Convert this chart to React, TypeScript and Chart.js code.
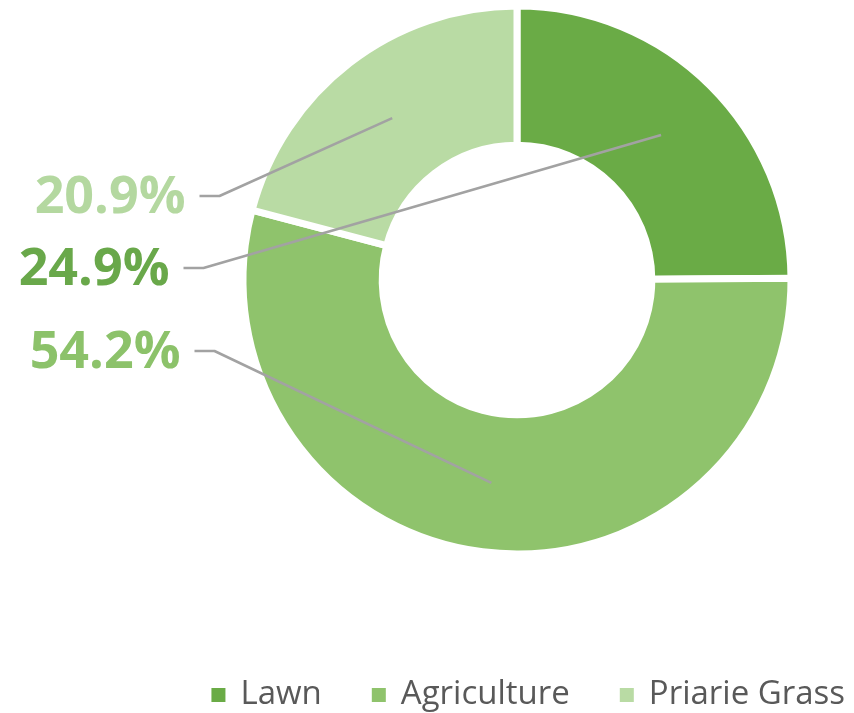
import React, { useEffect, useRef } from "react";
import { Chart, registerables } from "chart.js";

Chart.register(...registerables);

const categories = ["Lawn", "Agriculture", "Priarie Grass"];
const shares = [24.9, 54.2, 20.9];
const sliceColors = ["#6aab46", "#8fc36c", "#b9dba4"];
const labelColors = ["#69a84a", "#8cc26a", "#b4d8a0"];

// callout label anchors (style): x offset from chart area left, y offset from doughnut centre
const labelAnchorDx = [-56, -45, -40];
const labelAnchorDy = [-12, 71, -84];

const calloutPlugin = {
  id: "callouts",
  afterDatasetsDraw(chart: any) {
    const ctx = chart.ctx as CanvasRenderingContext2D;
    const meta = chart.getDatasetMeta(0);
    const area = chart.chartArea;
    meta.data.forEach((arc: any, i: number) => {
      const c = arc.getCenterPoint();
      const cy = arc.y;
      const sx = area.left + labelAnchorDx[i];
      const sy = cy + labelAnchorDy[i];
      ctx.save();
      ctx.strokeStyle = "#a2a2a2";
      ctx.lineWidth = 2.5;
      ctx.lineJoin = "round";
      ctx.beginPath();
      ctx.moveTo(sx, sy);
      ctx.lineTo(sx + 20, sy);
      ctx.lineTo(c.x, c.y);
      ctx.stroke();
      ctx.font = "bold 52px 'Open Sans'";
      ctx.fillStyle = labelColors[i];
      ctx.textAlign = "right";
      ctx.textBaseline = "middle";
      ctx.fillText(shares[i].toFixed(1) + "%", sx - 14, sy + 2);
      ctx.restore();
    });
  },
};

const legendPlugin = {
  id: "bottomLegend",
  afterDraw(chart: any) {
    const ctx = chart.ctx as CanvasRenderingContext2D;
    const colors = chart.data.datasets[0].backgroundColor as string[];
    const labels = chart.data.labels as string[];
    ctx.save();
    ctx.font = "33px 'Open Sans'";
    const box = 14;
    const boxGap = 15;
    const itemGap = 50;
    const widths = labels.map((t) => ctx.measureText(t).width);
    const total =
      widths.reduce((s, w) => s + box + boxGap + w, 0) + itemGap * (labels.length - 1);
    let x = chart.width - 9 - total;
    const y = chart.height - 18;
    ctx.textBaseline = "middle";
    ctx.textAlign = "left";
    labels.forEach((t, i) => {
      ctx.fillStyle = colors[i];
      ctx.fillRect(x, y - box / 2, box, box);
      x += box + boxGap;
      ctx.fillStyle = "#595959";
      ctx.fillText(t, x, y);
      x += widths[i] + itemGap;
    });
    ctx.restore();
  },
};

export default function App() {
  const canvasRef = useRef<HTMLCanvasElement | null>(null);

  useEffect(() => {
    document.body.style.margin = "0";
    const canvas = canvasRef.current;
    if (!canvas) return;
    const chart = new Chart(canvas, {
      type: "doughnut",
      data: {
        labels: categories,
        datasets: [
          {
            data: shares,
            backgroundColor: sliceColors,
            borderColor: "#ffffff",
            borderWidth: 7,
            hoverOffset: 0,
          },
        ],
      },
      options: {
        responsive: false,
        animation: false,
        cutout: "49.2%",
        layout: { padding: { left: 239.5, right: 59.5, top: 2.5, bottom: 155.5 } },
        plugins: {
          legend: { display: false },
          tooltip: { enabled: false },
        },
      },
      plugins: [calloutPlugin, legendPlugin],
    });
    return () => chart.destroy();
  }, []);

  return (
    <div style={{ position: "absolute", left: 0, top: 0, width: 854, height: 713, background: "#fff" }}>
      <canvas ref={canvasRef} width={854} height={713} />
    </div>
  );
}
